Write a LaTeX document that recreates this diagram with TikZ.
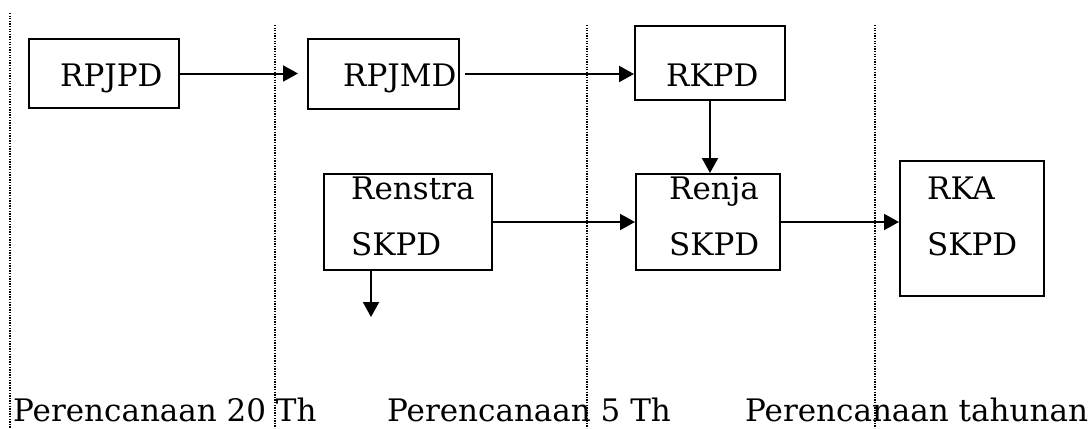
\documentclass[tikz,border=0pt]{standalone}
\usepackage{fontspec}
\setmainfont{DejaVu Serif}
\usepackage{tikz}
\usetikzlibrary{arrows.meta}
\tikzset{
  box/.style={draw, line width=2pt, anchor=north west, inner sep=0pt},
  lab/.style={anchor=base west, inner sep=0pt, align=left, font=\fontsize{31}{56}\selectfont},
  per/.style={anchor=base west, inner sep=0pt, font=\fontsize{31}{36}\selectfont},
  arr/.style={line width=2pt, -{Triangle[length=15pt,width=16pt]}},
  guide/.style={line width=1.3pt, dash pattern=on 1.3pt off 1.3pt}
}
\begin{document}
\begin{tikzpicture}[x=1pt, y=-1pt]
  \useasboundingbox (0,0) rectangle (1091,428);

  % period separators
  \draw[guide] (10,13) -- (10,428);
  \foreach \gx in {275,587,875}
    \draw[guide] (\gx,25) -- (\gx,428);

  % boxes
  \node[box, minimum width=150pt, minimum height=69pt] (rpjpd) at (28,38) {};
  \node[box, minimum width=151pt, minimum height=70pt] (rpjmd) at (307,38) {};
  \node[box, minimum width=150pt, minimum height=74pt] (rkpd) at (634,25) {};
  \node[box, minimum width=168pt, minimum height=96pt] (renstra) at (323,173) {};
  \node[box, minimum width=144pt, minimum height=96pt] (renja) at (635,173) {};
  \node[box, minimum width=144pt, minimum height=135pt] (rka) at (899,160) {};

  % base = last line
  \node[lab] (t-rpjpd) at (60,86) {RPJPD};
  \node[lab] (t-rpjmd) at (343,86) {RPJMD};
  \node[lab] (t-rkpd) at (666,86) {RKPD};
  \node[lab] (t-renstra) at (351,255) {Renstra\\SKPD};
  \node[lab] (t-renja) at (669,255) {Renja\\SKPD};
  \node[lab] (t-rka) at (927,255) {RKA\\SKPD};

  % flows
  \draw[arr, shorten >=9pt] (rpjpd.east) -- (rpjpd.east -| rpjmd.west);
  \draw[arr, shorten <=5pt] (rpjmd.east) -- (rpjmd.east -| rkpd.west);
  \draw[arr] (rkpd.south) -- (rkpd.south |- renja.north);
  \draw[arr] (renstra.east) -- (renja.west);
  \draw[arr] (renja.east) -- (renja.east -| rka.west);
  \coordinate (renstra-out) at (371,317);
  \draw[arr] (renstra-out |- renstra.south) -- (renstra-out);

  % periods
  \node[per] (p20) at (13,421) {Perencanaan 20 Th};
  \node[per] (p5) at (387,421) {Perencanaan 5 Th};
  \node[per] (p1) at (745,421) {Perencanaan tahunan};
\end{tikzpicture}
\end{document}
